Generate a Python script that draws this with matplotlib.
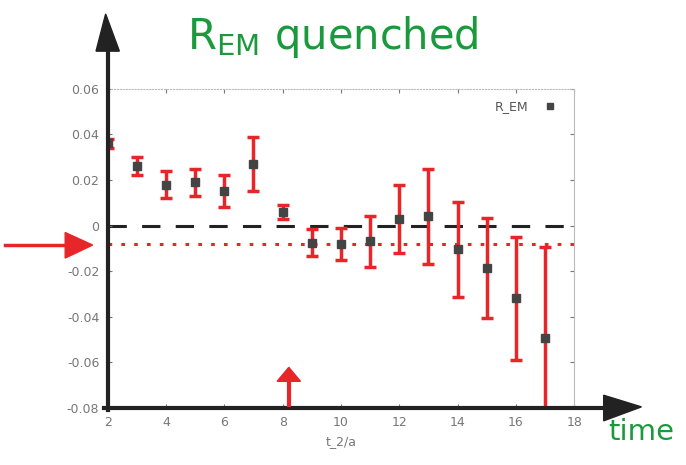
import numpy as np
import matplotlib.pyplot as plt

# R_EM vs t_2/a
t2 = [2, 3, 4, 5, 6, 7, 8, 9, 10, 11, 12, 13, 14, 15, 16, 17]
r_em = [0.036, 0.026, 0.018, 0.019, 0.015, 0.027, 0.006, -0.0075, -0.008, -0.007,
        0.003, 0.004, -0.0105, -0.0185, -0.032, -0.0495]
r_err = [0.002, 0.004, 0.006, 0.006, 0.007, 0.012, 0.003, 0.006, 0.007, 0.011,
         0.015, 0.021, 0.021, 0.022, 0.027, 0.040]
plateau = -0.008

xticks = [2, 4, 6, 8, 10, 12, 14, 16, 18]
yticks = [-0.08, -0.06, -0.04, -0.02, 0, 0.02, 0.04, 0.06]
ytick_labels = ["-0.08", "-0.06", "-0.04", "-0.02", "0", "0.02", "0.04", "0.06"]

red = "#e8262a"
green = "#1a9a3c"
gray = "#777777"

fig = plt.figure(figsize=(6.86, 4.65), dpi=100)
ax = fig.add_axes([0.157, 0.123, 0.68, 0.686])

ax.axhline(0, color="#222222", lw=2.2, ls=(0, (6, 5)), zorder=1)
ax.axhline(plateau, color=red, lw=2.2, ls=(0, (1.2, 3)), zorder=1)

ax.errorbar(t2, r_em, yerr=r_err, fmt="none", ecolor=red, elinewidth=2.5,
            capsize=4, capthick=2.5, zorder=2)
ax.plot(t2, r_em, "s", color="#444444", ms=6, zorder=3, label="R_EM")

ax.set_xlim(2, 18)
ax.set_ylim(-0.08, 0.06)
ax.set_xticks(xticks)
ax.set_yticks(yticks)
ax.set_yticklabels(ytick_labels)
ax.tick_params(colors=gray, labelsize=9, direction="in", length=3, pad=6,
               right=True, top=True)
ax.set_xlabel("t_2/a", color=gray, fontsize=9)

for side in ["top", "right"]:
    ax.spines[side].set_color("#bbbbbb")
    ax.spines[side].set_linewidth(0.8)
ax.spines["top"].set_linestyle(":")
ax.spines["left"].set_visible(False)
ax.spines["bottom"].set_visible(False)

leg = ax.legend(loc="upper right", frameon=False, fontsize=9, handlelength=2.0,
                markerscale=0.8, markerfirst=False)
for txt in leg.get_texts():
    txt.set_color("#555555")

# hand-drawn axes arrows
fig.add_artist(plt.Line2D([0.157, 0.157], [0.118, 0.90], color="#222222", lw=3))
fig.add_artist(plt.Line2D([0.152, 0.90], [0.123, 0.123], color="#222222", lw=3))
fig.patches.append(plt.Polygon([[0.140, 0.89], [0.174, 0.89], [0.154, 0.97]],
                               closed=True, color="#222222", transform=fig.transFigure))
fig.patches.append(plt.Polygon([[0.88, 0.095], [0.88, 0.150], [0.935, 0.125]],
                               closed=True, color="#222222", transform=fig.transFigure))

# red marker arrows
fig.add_artist(plt.Line2D([0.008, 0.11], [0.473, 0.473], color=red, lw=2.5))
fig.patches.append(plt.Polygon([[0.095, 0.445], [0.095, 0.50], [0.135, 0.473]],
                               closed=True, color=red, transform=fig.transFigure))
fig.add_artist(plt.Line2D([0.421, 0.421], [0.13, 0.19], color=red, lw=3))
fig.patches.append(plt.Polygon([[0.404, 0.18], [0.438, 0.18], [0.421, 0.21]],
                               closed=True, color=red, transform=fig.transFigure))

fig.text(0.485, 0.92, r"$\mathrm{R_{EM}}$ quenched", color=green, fontsize=30,
         ha="center", va="center")
fig.text(0.935, 0.07, "time", color=green, fontsize=21, ha="center", va="center")

fig.savefig("out.png", dpi=100)
